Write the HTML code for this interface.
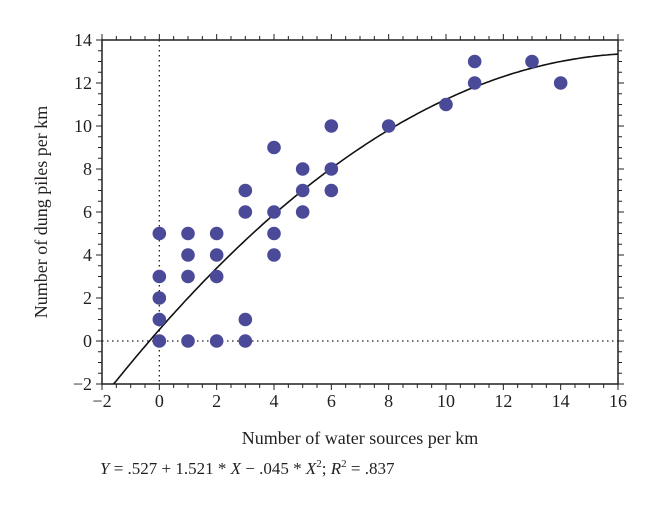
<!DOCTYPE html>
<html><head><meta charset="utf-8"><style>
body{margin:0;background:#fff}
svg text{font-family:"Liberation Serif",serif;fill:#231f20}
</style></head><body>
<svg width="660" height="511">
<g id="g"></g>
<text x="360" y="444" text-anchor="middle" font-size="18">Number of water sources per km</text>
<text transform="translate(47,212) rotate(-90)" text-anchor="middle" font-size="18">Number of dung piles per km</text>
<text x="100" y="474" font-size="17"><tspan font-style="italic">Y</tspan> = .527 + 1.521 * <tspan font-style="italic">X</tspan> − .045 * <tspan font-style="italic">X</tspan><tspan font-size="11" dy="-7">2</tspan><tspan dy="7">; </tspan><tspan font-style="italic">R</tspan><tspan font-size="11" dy="-7">2</tspan><tspan dy="7"> = .837</tspan></text>
</svg>
<script>
const xs=[0,0,0,0,0,1,1,1,1,2,2,2,2,3,3,3,3,4,4,4,4,5,5,5,6,6,6,8,10,11,11,13,14];
const ys=[0,1,2,3,5,0,3,4,5,0,3,4,5,0,1,6,7,4,5,6,9,6,7,8,7,8,10,10,11,12,13,13,12];
const coef=[0.527,1.521,-0.045];
const xTicks=[-2,0,2,4,6,8,10,12,14,16];
const yTicks=[-2,0,2,4,6,8,10,12,14];
const L=102,R=618,T=40,B=384;
const X=v=>L+(v+2)/18*(R-L), Y=v=>B-(v+2)/16*(B-T);
const g=document.getElementById('g');const NS='http://www.w3.org/2000/svg';
function el(t,a,name){const e=document.createElementNS(NS,t);for(const k in a)e.setAttribute(k,a[k]);


g.appendChild(e);return e;}
el('line',{x1:X(0),x2:X(0),y1:T,y2:B,stroke:'#231f20','stroke-dasharray':'1.5 3.5','stroke-width':1.3},'x-zero-line');
el('line',{x1:L,x2:R,y1:Y(0),y2:Y(0),stroke:'#231f20','stroke-dasharray':'1.5 3.5','stroke-width':1.3},'y-zero-line');
el('rect',{x:L,y:T,width:R-L,height:B-T,fill:'none',stroke:'#231f20','stroke-width':1.5},'plot-frame');
for(let v=-2;v<=16;v+=0.5){const maj=v%2===0;const x=X(v);
el('line',{x1:x,x2:x,y1:B,y2:B+(maj?6:4),stroke:'#231f20'},'x-tick');
el('line',{x1:x,x2:x,y1:T,y2:T-(maj?6:4),stroke:'#231f20'},'x-tick-top');}
for(let v=-2;v<=14;v+=0.5){const maj=v%2===0;const y=Y(v);
el('line',{x1:L,x2:L-(maj?6:4),y1:y,y2:y,stroke:'#231f20'},'y-tick');
el('line',{x1:R,x2:R+(maj?6:4),y1:y,y2:y,stroke:'#231f20'},'y-tick-right');}
xTicks.forEach(v=>{const t=el('text',{x:X(v),y:B+23,'text-anchor':'middle','font-size':18},'x-tick-label');t.textContent=v<0?'\u2212'+(-v):v;});
yTicks.forEach(v=>{const t=el('text',{x:L-10,y:Y(v)+6,'text-anchor':'end','font-size':18},'y-tick-label');t.textContent=v<0?'\u2212'+(-v):v;});
let d='';for(let x=-1.6;x<=16;x+=0.1){const y=coef[0]+coef[1]*x+coef[2]*x*x;d+=(d?'L':'M')+X(x).toFixed(1)+','+Y(Math.max(-2,y)).toFixed(1);}
el('path',{d:d,fill:'none',stroke:'#111','stroke-width':1.6},'fit-curve');
xs.forEach((x,i)=>el('circle',{cx:X(x),cy:Y(ys[i]),r:6.8,fill:'#4a4a98'},'data-point'));
</script>
</body></html>
